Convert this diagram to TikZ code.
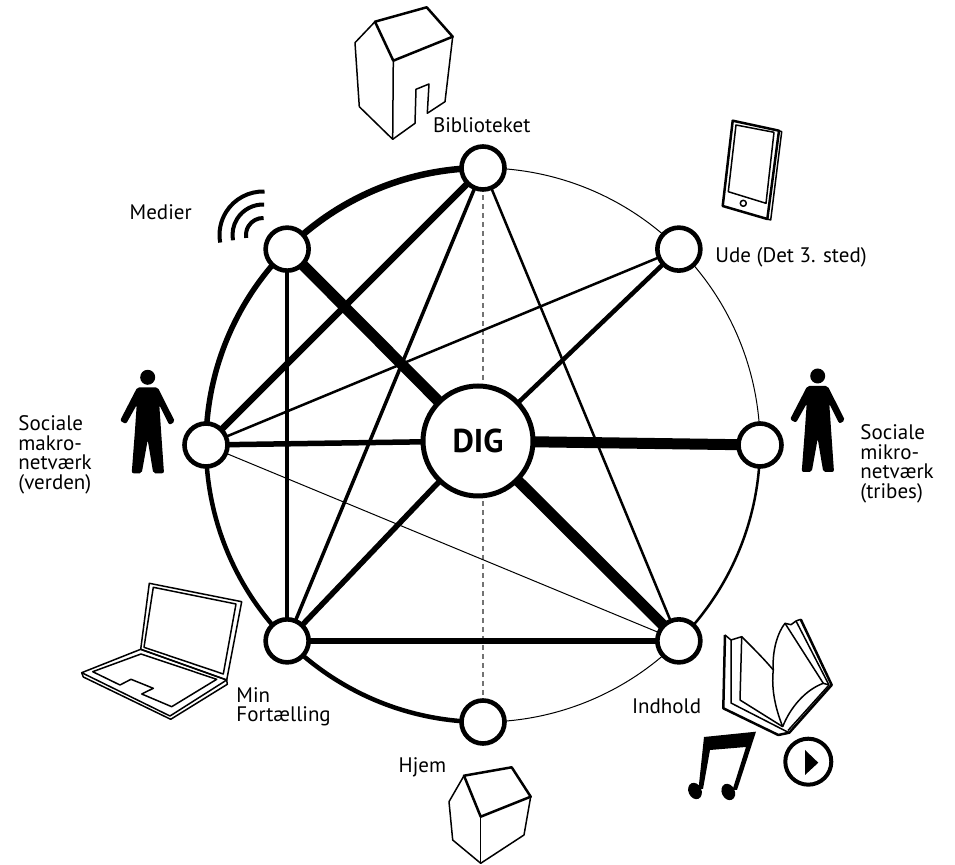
\documentclass[tikz,border=0pt]{standalone}
\usepackage{fontspec}
\setmainfont{PT Sans}
\usetikzlibrary{calc}
\pgfdeclarelayer{background}
\pgfsetlayers{background,main}
\begin{document}
\begin{tikzpicture}[x=0.5pt,y=0.5pt,line join=round,
  spot/.style={circle,draw,fill=white,line width=2.3pt,minimum size=21.5pt,inner sep=0pt},
  core/.style={circle,draw,fill=white,line width=2.5pt,minimum size=55pt,inner sep=0pt,
    font=\fontsize{16.5}{18}\selectfont\bfseries},
  lbl/.style={inner sep=0pt,font=\fontsize{10.5}{9.85}\selectfont,align=left},
  thin/.style={line width=0.5pt},
  wA/.style={line width=1.25pt},
  wB/.style={line width=1.75pt},
  wC/.style={line width=2.25pt},
  wD/.style={line width=2.75pt},
  wE/.style={line width=3.25pt},
  heavy/.style={line width=5.5pt},
  axis/.style={line width=0.75pt,draw=black!55,dash pattern=on 2.5pt off 2pt},
  iconline/.style={line width=0.75pt},
  iconbold/.style={line width=1.25pt},
  person/.pic={
    \fill (0,0) circle[radius=7.5];
    \fill[rounded corners=1pt] (-10.4,-10) -- (-27.7,-43.4) -- (-21.7,-46.7) -- (-11,-27.7)
      -- (-12.7,-52.7) -- (-16,-96) -- (-6,-96) -- (0,-62.7) -- (5.6,-96) -- (16.3,-96)
      -- (13.3,-52.7) -- (11.6,-27.7) -- (21.6,-47.7) -- (27.3,-44.4) -- (10,-10) -- cycle;
  },
]
\useasboundingbox (0,0) rectangle (955,-865);
\coordinate (C) at (483,-445);
\def\R{277}

% ring of places
\node[spot] (bib) at ($(C)+(90:\R)$) {};
\node[spot] (ude) at ($(C)+(45:\R)$) {};
\node[spot] (mik) at ($(C)+(0:\R)$) {};
\node[spot] (ind) at ($(C)+(-45:\R)$) {};
\node[spot] (hje) at ($(C)+(-90:\R)$) {};
\node[spot] (min) at ($(C)+(-135:\R)$) {};
\node[spot] (mak) at ($(C)+(180:\R)$) {};
\node[spot] (med) at ($(C)+(135:\R)$) {};
\node[core] (dig) at (478,-441) {DIG};

\begin{pgfonlayer}{background}
  % outer ring, segment by segment
  \draw[wE] (bib.center) arc[start angle=90,end angle=135,radius=\R];
  \draw[wD] (med.center) arc[start angle=135,end angle=180,radius=\R];
  \draw[wC] (mak.center) arc[start angle=180,end angle=225,radius=\R];
  \draw[wC] (min.center) arc[start angle=225,end angle=270,radius=\R];
  \draw[thin] (hje.center) arc[start angle=270,end angle=315,radius=\R];
  \draw[wA] (ind.center) arc[start angle=315,end angle=360,radius=\R];
  \draw[thin] (mik.center) arc[start angle=0,end angle=45,radius=\R];
  \draw[thin] (ude.center) arc[start angle=45,end angle=90,radius=\R];
  % vertical axis
  \draw[axis] (bib.center) -- (hje.center);
  % connections
  \draw[heavy] (med.center) -- (dig.center);
  \draw[heavy] (dig.center) -- (mik.center);
  \draw[heavy] (dig.center) -- (ind.center);
  \draw[wE] (bib.center) -- (mak.center);
  \draw[wB] (bib.center) -- (min.center);
  \draw[wA] (bib.center) -- (ind.center);
  \draw[wB] (med.center) -- (min.center);
  \draw[wA] (ude.center) -- (mak.center);
  \draw[wC] (ude.center) -- (dig.center);
  \draw[wD] (mak.center) -- (dig.center);
  \draw[thin] (mak.center) -- (ind.center);
  \draw[wD] (min.center) -- (dig.center);
  \draw[wD] (min.center) -- (ind.center);
\end{pgfonlayer}

% labels
\node[lbl,anchor=base] (tbib) at (481.7,-133) {Biblioteket};
\node[lbl,anchor=base west] (tude) at (715,-262.5) {Ude (Det 3. sted)};
\node[lbl,anchor=base west] (tmed) at (129.3,-219.3) {Medier};
\node[lbl,anchor=north west] (tmak) at (18,-415) {Sociale\\makro-\\netværk\\(verden)};
\node[lbl,anchor=north west] (tmik) at (860,-424) {Sociale\\mikro-\\netværk\\(tribes)};
\node[lbl,anchor=north west] (tmin) at (236,-687) {Min\\Fortælling};
\node[lbl,anchor=base west] (thje) at (398.3,-772.7) {Hjem};
\node[lbl,anchor=base west] (tind) at (631.7,-714) {Indhold};

% library building
\draw[iconbold] (375,-21.7) -- (426.7,-7.3) -- (452.7,-36.7) -- (393.3,-60.7) -- cycle;
\draw[iconline] (375,-21.7) -- (355,-42.7) -- (359.3,-106.7) -- (392.7,-139.3) -- (393.3,-60.7);
\draw[iconline] (392.7,-139.3) -- (415,-123.3) -- (416,-89.3) -- (429,-84) -- (427.3,-113.3)
  -- (445,-101.7) -- (452.7,-36.7);

% home
\draw[iconbold] (464,-775.7) -- (511.7,-767.3) -- (530.7,-796.7) -- (480.7,-816.7) -- cycle;
\draw[iconline] (464,-775.7) -- (449,-801.7) -- (452.7,-840) -- (480.7,-863.3) -- (524,-835) -- (530.7,-796.7);
\draw[iconline] (480.7,-816.7) -- (480.7,-863.3);

% tablet
\draw[iconbold] (732.7,-120.7) -- (779,-130.7) -- (767.3,-219) -- (722.7,-206) -- cycle;
\draw[iconline] (779,-130.7) -- (781.7,-131.7) -- (770.7,-220) -- (767.3,-219);
\draw[iconline] (736,-125) -- (774,-132.3) -- (766,-203.3) -- (728.3,-191.7) -- cycle;
\draw[iconline] (743.3,-203.3) circle[radius=3];

% broadcast waves
\foreach \r in {17,30.5,43.5}
  \draw[line width=2pt] ($(263,-235)+(88:\r)$) arc[start angle=88,end angle=190,radius=\r];

% people
\pic at (147.7,-377.3) {person};
\pic at (817.7,-376) {person};

% laptop
\draw[iconline] (149.3,-583.3) -- (241.7,-601.7) -- (226.7,-680) -- (140.7,-649.3) -- cycle;
\draw[iconline] (153.3,-587.3) -- (236,-604) -- (223.3,-674) -- (144,-647.3) -- cycle;
\draw[iconline] (81.7,-672.7) -- (140.7,-649.3) -- (226.7,-680) -- (170,-716) -- cycle;
\draw[iconline] (81.7,-672.7) -- (83.3,-677) -- (170.7,-719.3) -- (227.3,-684.3) -- (226.7,-680);
\draw[iconline] (92.7,-671.7) -- (141,-654) -- (216.7,-679.3) -- (171.7,-706.7) -- (141.7,-694)
  -- (153.3,-688.3) -- (131,-679.3) -- (120,-685) -- cycle;

% book
\draw[iconbold] (725,-635) -- (723.3,-708.3) -- (778.3,-735) -- (789.3,-732.7) -- (831.7,-685) -- (800.7,-619.3);
\draw[iconline] (725,-635) -- (731,-640) -- (731,-703) -- (782.7,-729.5) -- (789.3,-732.7);
\draw[iconline] (731,-640) -- (741.7,-636.7) -- (740,-700) -- (782.7,-726.7);
\draw[iconline] (741.7,-636.7) .. controls (755,-650) and (765,-660) .. (773.3,-670);
\draw[iconline] (773.3,-670) .. controls (771,-690) and (776,-710) .. (782.7,-726.7);
\draw[iconline] (773.3,-670) .. controls (772,-650) and (778,-632) .. (785,-623.3) -- (791,-624.7);
\draw[iconline] (785,-623.3) -- (823.3,-683.3) .. controls (805,-690) and (790,-708) .. (782.7,-726.7);
\draw[iconline] (791,-624.7) -- (796,-621) -- (829,-685) -- (823.3,-683.3);
\draw[iconline] (796,-621) -- (800.7,-619.3);
\draw[iconline] (829,-685) -- (788,-730.5);

% music note
\fill (704,-737) -- (756,-731.7) -- (737,-790) -- (732.5,-790) -- (746,-747) -- (710,-750)
  -- (703,-789) -- (698.5,-789) -- cycle;
\fill[rotate around={25:(695,-791)}] (695,-791) ellipse[x radius=6.5,y radius=8.5];
\fill[rotate around={25:(728.3,-792)}] (728.3,-792) ellipse[x radius=6.5,y radius=8.5];

% play button
\draw[line width=2pt] (808.3,-761.7) circle[radius=23];
\fill (805,-750) -- (818.3,-762.7) -- (805,-775) -- cycle;
\end{tikzpicture}
\end{document}
